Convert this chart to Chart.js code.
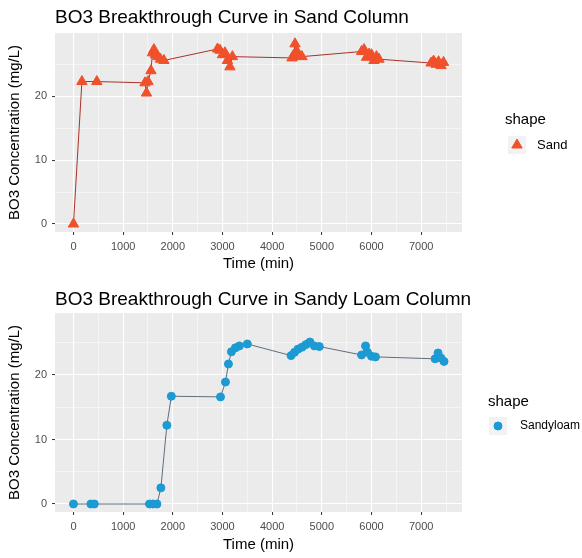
<!DOCTYPE html>
<html><head><meta charset="utf-8">
<script src="https://cdn.jsdelivr.net/npm/chart.js@4.4.0/dist/chart.umd.min.js"></script>
<style>html,body{margin:0;padding:0;background:#fff;}canvas{display:block;}</style>
</head><body>
<canvas id="c1" width="582" height="279"></canvas>
<canvas id="c2" width="582" height="279"></canvas>
<script>
// ---- data ----
const sandTime = [0, 170, 470, 1440, 1470, 1500, 1560, 1590, 1620, 1650, 1700, 1750, 1820,
  2900, 2950, 3000, 3050, 3100, 3150, 3200,
  4400, 4430, 4460, 4500, 4550, 4600,
  5800, 5850, 5900, 5950, 6000, 6050, 6100, 6150,
  7200, 7250, 7300, 7350, 7400, 7450];
const sandConc = [0, 22.3, 22.3, 22.1, 20.5, 22.3, 24.0, 26.8, 27.3, 26.5, 26.2, 25.8, 25.6,
  27.4, 27.2, 26.5, 26.8, 25.6, 24.6, 26.2,
  26.0, 26.4, 28.2, 27.0, 26.3, 26.2,
  27.0, 27.3, 26.1, 26.6, 26.5, 25.6, 26.2, 25.8,
  25.2, 25.5, 25.0, 25.4, 24.8, 25.3];
const loamTime = [0, 350, 420, 1530, 1600, 1680, 1760, 1880, 1970,
  2960, 3060, 3120, 3180, 3260, 3340, 3500,
  4380, 4450, 4520, 4600, 4680, 4760, 4850, 4950,
  5800, 5880, 5920, 6000, 6080,
  7280, 7340, 7400, 7460];
const loamConc = [0, 0, 0, 0, 0, 0, 2.5, 12.2, 16.7,
  16.6, 18.9, 21.7, 23.6, 24.2, 24.5, 24.8,
  23.0, 23.5, 24.0, 24.3, 24.7, 25.1, 24.5, 24.4,
  23.1, 24.5, 23.5, 22.9, 22.8,
  22.5, 23.4, 22.6, 22.1];
const xTickLabels = [0, 1000, 2000, 3000, 4000, 5000, 6000, 7000];
const yTickLabels = [0, 10, 20];
const panelTitles = ['BO3 Breakthrough Curve in Sand Column', 'BO3 Breakthrough Curve in Sandy Loam Column'];
const seriesNames = ['Sand', 'Sandyloam'];
const legendTitle = 'shape';
const xAxisTitle = 'Time (min)';
const yAxisTitle = 'BO3 Concentration (mg/L)';

// ---- rendering ----
const FONT = '"Liberation Sans", Arial, Helvetica, sans-serif';
Chart.defaults.font.family = FONT;

function withMinor(major) {
  const out = [];
  const step = major[1] - major[0];
  for (let i = 0; i < major.length; i++) {
    out.push(major[i]);
    out.push(major[i] + step / 2);
  }
  return out;
}

function makePanel(id, times, conc, opts) {
  const pts = times.map((t, i) => ({x: t, y: conc[i]})).sort((a, b) => a.x - b.x);
  const isMajorX = v => xTickLabels.includes(v);
  const isMajorY = v => yTickLabels.includes(v);
  const xAll = withMinor(xTickLabels).filter(v => v <= opts.xmax);
  const yAll = withMinor(yTickLabels).filter(v => v <= opts.ymax);

  const deco = {
    id: 'deco' + id,
    beforeDraw(chart) {
      const {ctx, chartArea: a} = chart;
      ctx.save();
      ctx.fillStyle = '#EBEBEB';
      ctx.fillRect(a.left, a.top, a.right - a.left, a.bottom - a.top);
      ctx.restore();
    },
    afterDraw(chart) {
      const ctx = chart.ctx;
      ctx.save();
      ctx.fillStyle = '#000';
      ctx.textBaseline = 'alphabetic';
      ctx.textAlign = 'left';
      ctx.font = '19px ' + FONT;
      ctx.fillText(opts.title, 55, opts.titleBase);
      // legend
      ctx.font = '15px ' + FONT;
      ctx.textBaseline = 'middle';
      ctx.fillText(legendTitle, opts.legX, opts.legTitleY);
      ctx.fillStyle = '#F2F2F2';
      ctx.fillRect(opts.keyX - 9, opts.keyY - 9, 18, 18);
      ctx.fillStyle = opts.color;
      ctx.strokeStyle = opts.color;
      ctx.lineWidth = 1;
      Chart.helpers.drawPoint(ctx, {pointStyle: opts.style, radius: opts.legR, borderWidth: 1, rotation: 0}, opts.keyX, opts.keyY);
      ctx.fillStyle = '#000';
      ctx.font = opts.labSize + 'px ' + FONT;
      ctx.fillText(opts.name, opts.labX, opts.keyY);
      ctx.restore();
    }
  };

  return new Chart(document.getElementById(id), {
    type: 'line',
    data: {datasets: [{
      data: pts,
      borderColor: opts.lineColor,
      borderWidth: 1,
      backgroundColor: opts.color,
      pointBackgroundColor: opts.color,
      pointBorderColor: opts.color,
      pointBorderWidth: 1,
      pointStyle: opts.style,
      pointRadius: opts.r,
      tension: 0,
      fill: false
    }]},
    options: {
      responsive: false,
      animation: false,
      events: [],
      layout: {padding: {top: opts.top, right: 120, left: 0, bottom: 0}},
      plugins: {legend: {display: false}, tooltip: {enabled: false}, title: {display: false}},
      scales: {
        x: {
          type: 'linear', min: -372, max: 7822,
          afterBuildTicks: s => { s.ticks = xAll.map(v => ({value: v})); },
          afterFit: s => { s.height = opts.xAxisH; },
          border: {display: false},
          grid: {
            color: '#FFFFFF',
            lineWidth: c => (c.tick && isMajorX(c.tick.value)) ? 1.1 : 0.5,
            tickColor: c => (c.tick && isMajorX(c.tick.value)) ? '#333333' : 'rgba(0,0,0,0)',
            tickWidth: 1, tickLength: 3, drawTicks: true
          },
          ticks: {
            autoSkip: false, maxRotation: 0, padding: 5,
            color: '#4D4D4D', font: {size: 11},
            callback: v => isMajorX(v) ? String(v) : ''
          },
          title: {display: true, text: xAxisTitle, color: '#000', font: {size: 15}, padding: {top: 0, bottom: opts.xTitlePad}}
        },
        y: {
          type: 'linear', min: opts.ymin, max: opts.ymax,
          afterBuildTicks: s => { s.ticks = yAll.map(v => ({value: v})); },
          afterFit: s => { s.width = 55; },
          border: {display: false},
          grid: {
            color: '#FFFFFF',
            lineWidth: c => (c.tick && isMajorY(c.tick.value)) ? 1.1 : 0.5,
            tickColor: c => (c.tick && isMajorY(c.tick.value)) ? '#333333' : 'rgba(0,0,0,0)',
            tickWidth: 1, tickLength: 3, drawTicks: true
          },
          ticks: {
            autoSkip: false, padding: 5,
            color: '#4D4D4D', font: {size: 11},
            callback: v => isMajorY(v) ? String(v) : ''
          },
          title: {display: true, text: yAxisTitle, color: '#000', font: {size: 15}, padding: {top: 6, bottom: 0}}
        }
      }
    },
    plugins: [deco]
  });
}

makePanel('c1', sandTime, sandConc, {
  title: panelTitles[0], titleBase: 23, name: seriesNames[0],
  color: '#F0502A', lineColor: '#A8322A', style: 'triangle', r: 6, legR: 6, labSize: 13,
  top: 33, xAxisH: 47, xTitlePad: 6, ymin: -1.25, ymax: 29.9, xmax: 7822,
  legX: 505, legTitleY: 120, keyX: 517, keyY: 145, labX: 537
});
makePanel('c2', loamTime, loamConc, {
  title: panelTitles[1], titleBase: 26, name: seriesNames[1],
  color: '#1C9AD3', lineColor: '#5E6E80', style: 'circle', r: 4, legR: 4, labSize: 12,
  top: 34, xAxisH: 46, xTitlePad: 4, ymin: -1.24, ymax: 29.6, xmax: 7822,
  legX: 488, legTitleY: 123, keyX: 498, keyY: 147, labX: 520
});
</script>
</body></html>
